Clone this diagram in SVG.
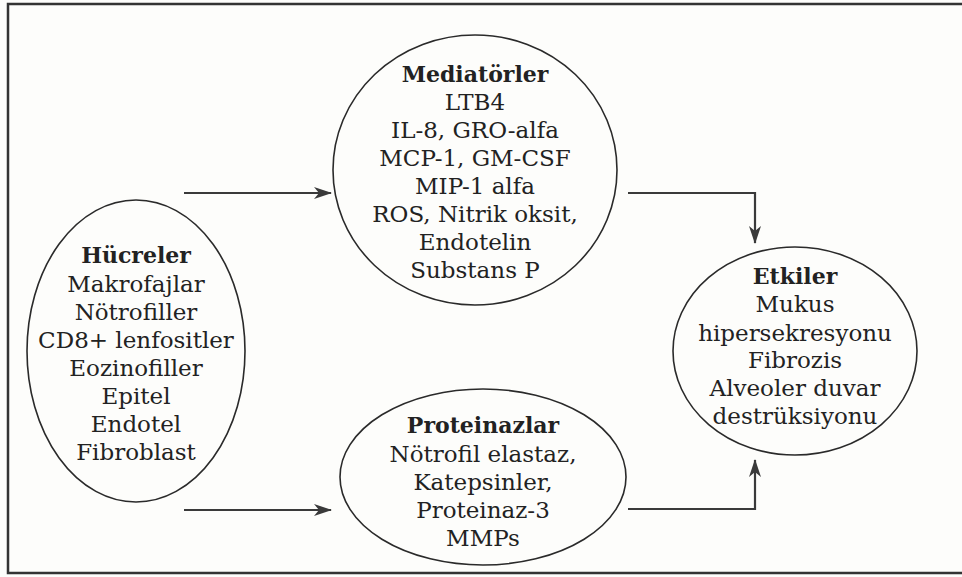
<svg xmlns="http://www.w3.org/2000/svg" width="962" height="577" viewBox="0 0 962 577">
<defs>
<style>
.bg{fill:#fdfdfb}
.frame{fill:none;stroke:#333;stroke-width:2.5}
.node ellipse{fill:none;stroke:#2a2a2a;stroke-width:1.6}
.node text{font-family:"DejaVu Serif","Liberation Serif",serif;font-size:23px;fill:#222;text-anchor:middle}
.node text.t{font-weight:bold;font-size:22px}
.conn{fill:none;stroke:#3a3a3a;stroke-width:2.2}
</style>
<marker id="ah" viewBox="0 0 18 12" refX="17" refY="6" markerWidth="18" markerHeight="12" markerUnits="userSpaceOnUse" orient="auto">
<path d="M0,0 L18,6 L0,12 L5,6 z" fill="#3a3a3a"/>
</marker>
</defs>
<rect class="bg" x="0" y="0" width="962" height="577"/>
<path class="frame" d="M962,4 L8,4 L8,573 L962,573"/>

<g id="connectors">
<line class="conn" x1="184" y1="193" x2="331" y2="193" marker-end="url(#ah)"/>
<line class="conn" x1="184" y1="510" x2="331" y2="510" marker-end="url(#ah)"/>
<path class="conn" d="M628,193 L755,193 L755,243" marker-end="url(#ah)"/>
<path class="conn" d="M628,509 L755,509 L755,460" marker-end="url(#ah)"/>
</g>

<g id="mediatorler" class="node">
<ellipse cx="475" cy="170" rx="142" ry="135"/>
<text class="t" x="475" y="82">Mediatörler</text>
<text x="475" y="110">LTB4</text>
<text x="475" y="138">IL-8, GRO-alfa</text>
<text x="475" y="166">MCP-1, GM-CSF</text>
<text x="475" y="194">MIP-1 alfa</text>
<text x="475" y="222">ROS, Nitrik oksit,</text>
<text x="475" y="250">Endotelin</text>
<text x="475" y="278">Substans P</text>
</g>

<g id="hucreler" class="node">
<ellipse cx="136" cy="351" rx="109" ry="151"/>
<text class="t" x="136" y="263">Hücreler</text>
<text x="136" y="292">Makrofajlar</text>
<text x="136" y="320">Nötrofiller</text>
<text x="136" y="348">CD8+ lenfositler</text>
<text x="136" y="376">Eozinofiller</text>
<text x="136" y="404">Epitel</text>
<text x="136" y="432">Endotel</text>
<text x="136" y="460">Fibroblast</text>
</g>

<g id="proteinazlar" class="node">
<ellipse cx="483" cy="477" rx="143" ry="88"/>
<text class="t" x="483" y="433">Proteinazlar</text>
<text x="483" y="462">Nötrofil elastaz,</text>
<text x="483" y="490">Katepsinler,</text>
<text x="483" y="518">Proteinaz-3</text>
<text x="483" y="546">MMPs</text>
</g>

<g id="etkiler" class="node">
<ellipse cx="795" cy="351" rx="122" ry="104"/>
<text class="t" x="795" y="284">Etkiler</text>
<text x="795" y="312">Mukus</text>
<text x="795" y="341">hipersekresyonu</text>
<text x="795" y="368">Fibrozis</text>
<text x="795" y="396">Alveoler duvar</text>
<text x="795" y="424">destrüksiyonu</text>
</g>
</svg>
